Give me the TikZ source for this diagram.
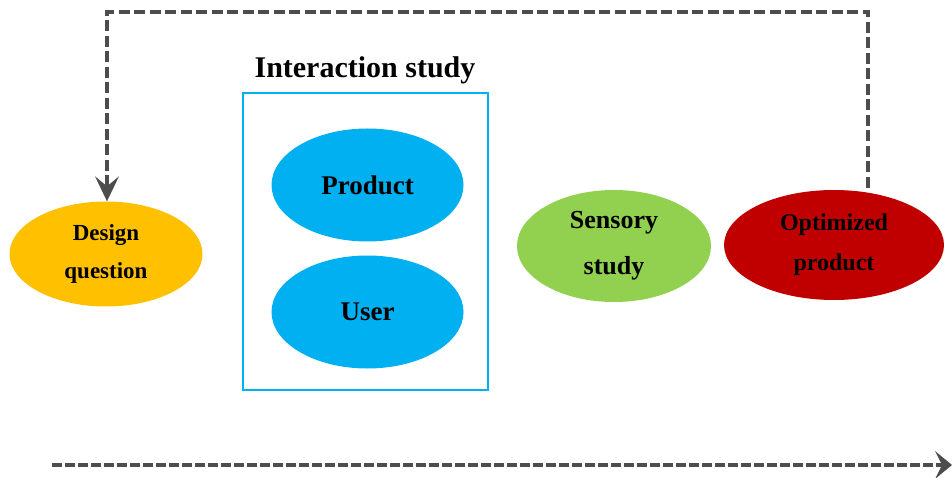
\documentclass[tikz,border=0pt]{standalone}
\usepackage{fontspec}
\setmainfont{Liberation Serif}
\usetikzlibrary{arrows.meta,shapes.geometric}
\definecolor{cyanb}{HTML}{00B0F0}
\definecolor{yellowb}{HTML}{FFC000}
\definecolor{greenb}{HTML}{92D050}
\definecolor{redb}{HTML}{C00000}
\definecolor{lineg}{HTML}{4D4D4D}
\tikzset{
  blob/.style={ellipse, inner sep=0pt, align=center, font=\bfseries},
  flow/.style={draw=lineg, line width=4.5pt, dash pattern=on 11pt off 4.5pt,
    -{Stealth[length=25pt,width=24pt,inset=10pt,line width=0pt]}},
}
\begin{document}
\begin{tikzpicture}[x=1pt,y=-1pt]
\useasboundingbox (0,0) rectangle (952,478);
\node[blob, fill=yellowb, minimum width=193pt, minimum height=105pt,
  font=\bfseries\fontsize{23}{38}\selectfont] (dq) at (106,254) {Design\\question};
\node[draw=cyanb, line width=1.5pt, minimum width=245pt, minimum height=297pt,
  inner sep=0pt] (box) at (365.5,241.5) {};
\node[font=\bfseries\fontsize{30}{32}\selectfont, anchor=south] (title) at (365,88) {Interaction study};
\node[blob, fill=cyanb, minimum width=192pt, minimum height=113pt,
  font=\bfseries\fontsize{27}{30}\selectfont] (prod) at (367.5,185) {Product};
\node[blob, fill=cyanb, minimum width=192pt, minimum height=113pt,
  font=\bfseries\fontsize{27}{30}\selectfont] (user) at (367.5,312) {User};
\node[blob, fill=greenb, minimum width=194pt, minimum height=112pt,
  font=\bfseries\fontsize{26}{46}\selectfont] (sens) at (614,246) {Sensory\\study};
\node[blob, fill=redb, minimum width=220pt, minimum height=110pt,
  font=\bfseries\fontsize{24}{40}\selectfont] (opt) at (834,245) {Optimized\\product};
\coordinate (fbs) at (868,188);
\coordinate (tr) at (868,12);
\coordinate (tl) at (107,12);
\coordinate (bs) at (52,465);
\coordinate (be) at (952,465);
\draw[flow] (fbs) -- (tr) -- (tl) -- (dq.north -| tl);
\draw[flow, dash pattern=on 10pt off 3pt, -{Stealth[length=17pt,width=28pt,inset=7pt,line width=0pt]}] (bs) -- (be);
\end{tikzpicture}
\end{document}
